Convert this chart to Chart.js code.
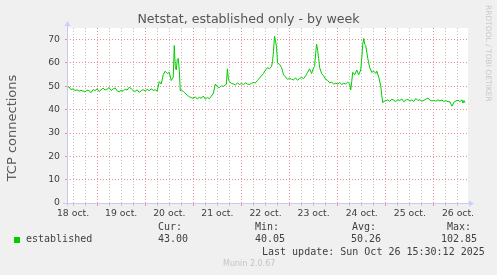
<!DOCTYPE html>
<html>
<head>
<meta charset="utf-8">
<script src="https://cdn.jsdelivr.net/npm/chart.js@4/dist/chart.umd.min.js"></script>
<style>
  html, body { margin: 0; padding: 0; background: #f0f0f0; }
  #wrap { position: relative; width: 497px; height: 275px; overflow: hidden; }
  canvas { position: absolute; left: 0; top: 0; }
  .t { position: absolute; font-family: "DejaVu Sans Mono", monospace; font-size: 10px; line-height: 12px; color: #404040; white-space: pre; }
  #title { position: absolute; left: 0; top: 11px; width: 497px; text-align: center; font-family: "DejaVu Sans", sans-serif; font-size: 12.6px; line-height: 16px; color: #555555; white-space: nowrap; }
  #ytitle { position: absolute; left: 12px; top: 128px; width: 200px; margin-left: -100px; margin-top: -8px; text-align: center; font-family: "DejaVu Sans", sans-serif; font-size: 13px; line-height: 16px; color: #5a5a5a; white-space: nowrap; transform: rotate(-90deg); }
  #munin { position: absolute; font-family: "DejaVu Sans", sans-serif; font-size: 8px; line-height: 10px; color: #c4c4c4; left: 223px; top: 259px; }
  #rrd { position: absolute; font-family: "DejaVu Sans", sans-serif; font-size: 7.5px; line-height: 9px; color: #c8c8c8; left: 484px; top: 5px; writing-mode: vertical-rl; white-space: nowrap; }
  #sq { position: absolute; left: 14px; top: 237px; width: 6px; height: 6px; background: #00cc00; }
</style>
</head>
<body>
<div id="wrap">
  <canvas id="c" width="497" height="275"></canvas>
  <div id="title">Netstat, established only - by week</div>
  <div id="ytitle">TCP connections</div>
  <div id="rrd">RRDTOOL / TOBI OETIKER</div>
  <div class="t" style="left:158px;top:221px">Cur:</div>
  <div class="t" style="left:255px;top:221px">Min:</div>
  <div class="t" style="left:352px;top:221px">Avg:</div>
  <div class="t" style="left:447px;top:221px">Max:</div>
  <div id="sq"></div>
  <div class="t" style="left:26px;top:233px">established</div>
  <div class="t" style="left:158px;top:233px">43.00</div>
  <div class="t" style="left:255px;top:233px">40.05</div>
  <div class="t" style="left:351px;top:233px">50.26</div>
  <div class="t" style="left:441px;top:233px">102.85</div>
  <div class="t" style="left:262px;top:246px">Last update: Sun Oct 26 15:30:12 2025</div>
  <div id="munin">Munin 2.0.67</div>
</div>
<script>
// Day labels (one per day, starting 18 oct)
const dayLabels = ['18 oct.', '19 oct.', '20 oct.', '21 oct.', '22 oct.', '23 oct.', '24 oct.', '25 oct.', '26 oct.'];

// established connections per day: [hour of day, value]
const oct18 = [[9,49.5],[10,49.8],[11,48.6],[12,48.9],[13,48.2],[14,48.5],[15,47.9],[16,48.3],[17,48.0],[18,47.6],[19,48.4],[20,48.1],[21,47.3],[22,48.6],[23,48.2]];
const oct19 = [[0,48.9],[1,47.8],[2,48.5],[3,49.2],[4,48.4],[5,48.8],[6,49.5],[7,48.2],[8,48.9],[9,49.3],[10,48.1],[11,47.6],[12,48.3],[13,47.9],[14,48.8],[15,48.4],[16,49.6],[17,49.0],[18,48.2],[19,47.8],[20,48.5],[21,47.4],[22,48.1],[23,48.6]];
const oct20 = [[0,48.0],[1,48.7],[2,48.2],[3,48.9],[4,48.3],[5,48.5],[6,47.9],[7,52],[8,51],[9,55],[10,56.5],[11,55.5],[12,56],[13,52.5],[14,54],[14.5,67.5],[15,58.5],[15.5,57],[16,61.5],[16.5,62],[17,57],[17.5,48],[18,48.5],[19,47.8],[20,47],[21,46.2],[22,45.5],[23,45.2]];
const oct21 = [[0,44.8],[1,45.5],[2,44.6],[3,45.3],[4,44.9],[5,45.8],[6,44.5],[7,45.2],[8,44.7],[9,45.8],[10,47],[11,51],[12,49.8],[13,49.5],[14,50.2],[15,50],[16,50.5],[16.5,51],[17,57.5],[17.5,53],[18,52],[19,51.3],[20,51],[21,50.6],[22,51.4],[23,50.8]];
const oct22 = [[0,51.2],[1,50.7],[2,51.5],[3,51],[4,50.8],[5,51.3],[6,51.6],[7,51.5],[8,52.5],[9,53.5],[10,54.5],[11,55.5],[12,57],[13,58],[14,57.5],[15,58.5],[15.5,60.5],[16,65],[16.5,71.5],[17,69.5],[17.5,67],[18,60],[19,59.5],[20,58],[21,55],[22,54],[23,53]];
const oct23 = [[0,53.5],[1,53],[2,52.8],[3,53.6],[4,52.6],[5,53.4],[6,53.8],[7,53.3],[8,54.5],[9,56],[10,57.5],[11,55.5],[12,58],[12.5,58.5],[13,64],[13.5,68],[14,65.5],[14.5,62],[15,58],[16,55.5],[17,54.5],[18,53],[19,52.5],[20,51.5],[21,51.8],[22,51],[23,51.3]];
const oct24 = [[0,51],[1,51.6],[2,50.8],[3,51.3],[4,51],[5,51.8],[6,51],[6.5,48.5],[7,52],[7.5,56],[8.5,55],[9.5,57],[10.5,55],[11.5,57],[12,62],[12.5,68],[13,70.5],[13.5,68],[14,67.5],[15,62],[16,58],[17,56],[18,56.5],[19,55.5],[19.5,56.5],[20.5,54],[21.5,50],[22,46],[22.5,43],[23,43.6]];
const oct25 = [[0,43.8],[1,44.2],[2,43.6],[3,44.5],[4,44],[5,43.5],[6,44.3],[7,43.9],[8,44.6],[9,43.4],[10,44.1],[11,44.4],[12,43.7],[13,44.2],[14,43.5],[15,44.8],[16,43.9],[17,44.3],[18,43.6],[19,44],[20,44.5],[21,45],[22,44.1],[23,43.7]];
const oct26 = [[0,44],[1,43.6],[2,44.2],[3,43.8],[4,44.1],[5,43.5],[6,43.9],[7,43.4],[8,43.4],[9,41.5],[10,43.2],[11,43.8],[12,44],[13,43.5],[14,44.2],[14.5,42.8],[15,43.9],[15.5,43]];

const days = [oct18, oct19, oct20, oct21, oct22, oct23, oct24, oct25, oct26];
const points = days.flatMap((arr, d) => arr.map(([h, v]) => ({ x: d * 24 + h, y: v })));

const RED = '#e89090';
const GRAY = '#c4c4c4';

const axisPlugin = {
  id: 'rrdAxes',
  afterDraw(chart) {
    const { ctx, chartArea: a } = chart;
    ctx.save();
    ctx.strokeStyle = '#c8c8f0';
    ctx.fillStyle = '#c8d0f8';
    ctx.lineWidth = 1;
    ctx.beginPath();
    ctx.moveTo(a.left + 0.5, a.bottom + 3);
    ctx.lineTo(a.left + 0.5, a.top - 4);
    ctx.moveTo(a.left - 4, a.bottom + 0.5);
    ctx.lineTo(a.right + 4, a.bottom + 0.5);
    ctx.stroke();
    ctx.beginPath();
    ctx.moveTo(a.left + 0.5, a.top - 7);
    ctx.lineTo(a.left - 2.5, a.top - 2);
    ctx.lineTo(a.left + 3.5, a.top - 2);
    ctx.closePath();
    ctx.fill();
    ctx.beginPath();
    ctx.moveTo(a.right + 6, a.bottom + 0.5);
    ctx.lineTo(a.right + 1, a.bottom - 2.5);
    ctx.lineTo(a.right + 1, a.bottom + 3.5);
    ctx.closePath();
    ctx.fill();
    ctx.restore();
  }
};

const bgPlugin = {
  id: 'plotBg',
  beforeDraw(chart) {
    const { ctx, chartArea: a } = chart;
    ctx.save();
    ctx.fillStyle = '#ffffff';
    ctx.fillRect(a.left, a.top, a.right - a.left, a.bottom - a.top);
    ctx.restore();
  }
};

new Chart(document.getElementById('c'), {
  type: 'line',
  data: {
    datasets: [{
      label: 'established',
      data: points,
      borderColor: '#00cc00',
      borderWidth: 1,
      pointRadius: 0,
      tension: 0,
      fill: false
    }]
  },
  options: {
    responsive: false,
    animation: false,
    layout: { padding: { left: 0, right: 29, top: 28, bottom: 0 } },
    plugins: {
      legend: { display: false },
      tooltip: { enabled: false },
      title: { display: false }
    },
    scales: {
      x: {
        type: 'linear',
        min: 9,
        max: 209,
        afterFit(s) { s.height = 72; },
        afterBuildTicks(s) {
          const t = [];
          for (let v = 12; v <= 209; v += 6) t.push({ value: v });
          s.ticks = t;
        },
        ticks: {
          autoSkip: false,
          maxRotation: 0,
          padding: 2,
          color: '#404040',
          font: { family: 'DejaVu Sans', size: 9.3 },
          callback(v) {
            if (v % 24 === 12) return dayLabels[(v - 12) / 24];
            return '';
          }
        },
        grid: {
          color(c) { return c.tick && c.tick.value % 24 === 0 ? RED : GRAY; },
          lineWidth: 1,
          tickLength: 3,
          tickColor(c) { return c.tick && c.tick.value % 24 === 0 ? RED : GRAY; }
        },
        border: { display: false, dash: [1, 2] }
      },
      y: {
        min: 0,
        max: 75,
        afterFit(s) { s.width = 67; },
        ticks: {
          stepSize: 5,
          padding: 5,
          color: '#404040',
          font: { family: 'DejaVu Sans', size: 9.3 },
          callback(v) { return v % 10 === 0 ? String(v) : ''; }
        },
        grid: {
          color(c) { return c.tick && c.tick.value % 10 === 0 ? RED : GRAY; },
          lineWidth: 1,
          tickLength: 2,
          tickColor(c) { return c.tick && c.tick.value % 10 === 0 ? RED : GRAY; }
        },
        border: { display: false, dash: [1, 2] }
      }
    }
  },
  plugins: [bgPlugin, axisPlugin]
});
</script>
</body>
</html>
